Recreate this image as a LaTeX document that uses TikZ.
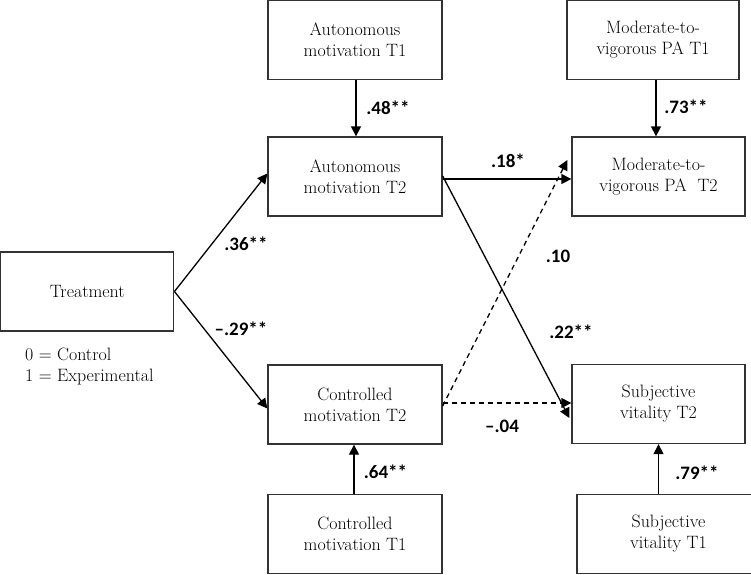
\documentclass[tikz,border=0pt]{standalone}
\usepackage{fontspec}
\newfontfamily\lblfont{Carlito}
\usetikzlibrary{arrows.meta,calc}
\begin{document}
\begin{tikzpicture}[x=1pt,y=-1pt,
  box/.style={draw=black!80,line width=1.3pt,rectangle,minimum width=174pt,minimum height=79pt,
    align=center,font=\rmfamily\fontsize{17.9}{21}\selectfont,inner sep=0pt},
  lbl/.style={font=\lblfont\bfseries\fontsize{19}{20}\selectfont,inner sep=0pt},
  arr/.style={line width=1.3pt,-{Triangle[length=10pt,width=10pt]}},
  darr/.style={arr,dash pattern=on 5pt off 4pt}]
\useasboundingbox (0,0) rectangle (751,574);
\node[box] (aut1) at (355,39.9) {Autonomous\\motivation T1};
\node[box,minimum width=172pt] (mod1) at (653,39.9) {Moderate-to-\\vigorous PA T1};
\node[box] (aut2) at (355,176.5) {Autonomous\\motivation T2};
\node[box,minimum width=173pt] (mod2) at (658.5,176.5) {Moderate-to-\\vigorous PA\ \ T2};
\node[box,minimum width=173pt] (treat) at (87.3,291.5) {Treatment};
\node[box] (ctrl2) at (355,404.5) {Controlled\\motivation T2};
\node[box,minimum width=173pt] (subj2) at (658.5,404) {Subjective\\vitality T2};
\node[box] (ctrl1) at (355,534) {Controlled\\motivation T1};
\node[box,minimum width=183pt] (subj1) at (668.5,533.7) {Subjective\\vitality T1};
\node[anchor=north west,align=left,inner sep=0pt,font=\rmfamily\fontsize{17.9}{21}\selectfont] (code) at (25,348) {0 = Control\\1 = Experimental};

\draw[arr] ([xshift=1pt]aut1.south) -- ([xshift=1pt]aut2.north);
\draw[arr] ([xshift=3pt]mod1.south) -- ([xshift=3pt]mod1.south |- mod2.north);
\draw[arr] ([xshift=-1pt]ctrl1.north) -- ([xshift=-1pt]ctrl2.south);
\draw[arr] (subj2.south |- subj1.north) -- (subj2.south);
\draw[arr] (treat.east) -- ([yshift=3pt]aut2.west);
\draw[arr] (treat.east) -- ([yshift=-4pt]ctrl2.west);
\draw[arr] ([yshift=-2.5pt]aut2.east) -- ([yshift=-2.5pt]aut2.east -| mod2.west);
\draw[arr] ([yshift=0.5pt]aut2.east) -- ([xshift=-2pt,yshift=-14pt]subj2.west);
\draw[darr] ([yshift=-1.5pt]ctrl2.east) -- ([xshift=-4pt,yshift=16.5pt]mod2.west);
\draw[darr] ([yshift=1.5pt]ctrl2.east) -- ([yshift=1.5pt]ctrl2.east -| subj2.west);

\node[lbl] (l48) at (388,107.5) {.48**};
\node[lbl] (l73) at (686,107) {.73**};
\node[lbl] (l18) at (508,160.5) {.18*};
\node[lbl] (l36) at (246,244) {.36**};
\node[lbl] (l29) at (241,329) {\textendash.29**};
\node[lbl] (l10) at (558,256) {.10};
\node[lbl] (l22) at (571,332) {.22**};
\node[lbl] (l04) at (502,426) {\textendash.04};
\node[lbl] (l64) at (385.5,472) {.64**};
\node[lbl] (l79) at (697,473) {.79**};
\end{tikzpicture}
\end{document}
